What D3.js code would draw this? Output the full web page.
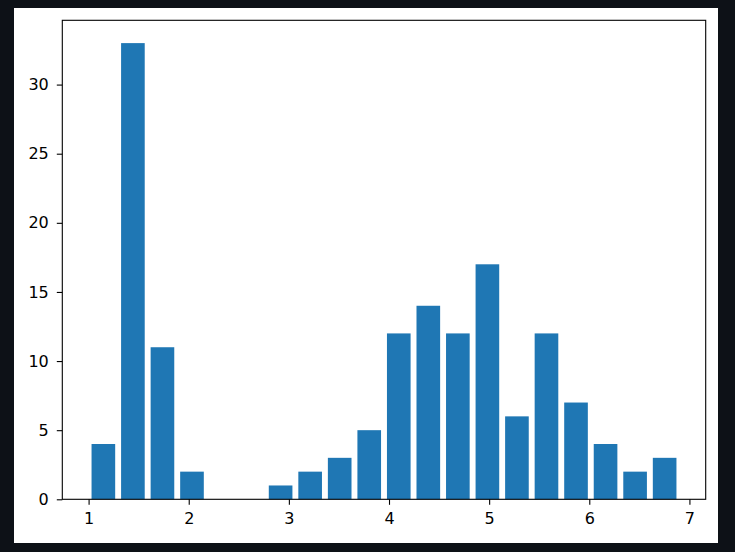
<!DOCTYPE html>
<html><head><meta charset="utf-8">
<script src="https://cdn.jsdelivr.net/npm/d3@7"></script>
<style>
html,body{margin:0;padding:0;background:#0d1117;}
svg{display:block;}
text{font-family:"DejaVu Sans",sans-serif;}
</style></head>
<body>
<script>
const binEdges = [1.0,1.295,1.59,1.885,2.18,2.475,2.77,3.065,3.36,3.655,3.95,4.245,4.54,4.835,5.13,5.425,5.72,6.015,6.31,6.605,6.9];
const counts = [4,33,11,2,0,0,1,2,3,5,12,14,12,17,6,12,7,4,2,3];
const xTicks = [1,2,3,4,5,6,7];
const yTicks = [0,5,10,15,20,25,30];

const W = 735, H = 552;
const svg = d3.select("body").append("svg").attr("width", W).attr("height", H);
svg.append("rect").attr("x",0).attr("y",0).attr("width",W).attr("height",H).attr("fill","#0d1117");
svg.append("rect").attr("x",14).attr("y",8).attr("width",704).attr("height",535).attr("fill","#ffffff");

const L = 62.3, R = 705.7, T = 20.3, B = 499.3;
const rw = 0.8;
const bw = binEdges[1]-binEdges[0];
const x0 = binEdges[0] + bw*(1-rw)/2, x1 = binEdges[binEdges.length-1] - bw*(1-rw)/2;
const pad = (x1-x0)*0.05;
const x = d3.scaleLinear().domain([x0-pad, x1+pad]).range([L, R]);
const y = d3.scaleLinear().domain([0, d3.max(counts)*1.05]).range([B, T]);

const bars = counts.map((c,i)=>({c, a: binEdges[i], b: binEdges[i+1]}));
svg.append("g").selectAll("rect").data(bars).join("rect")
  .attr("x", d => x(d.a + (d.b-d.a)*(1-rw)/2))
  .attr("width", d => x(d.a + (d.b-d.a)*(1+rw)/2) - x(d.a + (d.b-d.a)*(1-rw)/2))
  .attr("y", d => y(d.c))
  .attr("height", d => y(0)-y(d.c))
  .attr("fill", "#1f77b4");

const fs = "16px";
const xAxis = svg.append("g").attr("transform", `translate(0,${B})`)
  .call(d3.axisBottom(x).tickValues(xTicks).tickFormat(d3.format("d")).tickSize(5.5).tickSizeOuter(0).tickPadding(8));
xAxis.select(".domain").remove();
xAxis.selectAll("line").attr("stroke","#000").attr("stroke-width",1.1);
xAxis.selectAll("text").attr("font-size",fs).attr("fill","#000").attr("font-family","DejaVu Sans");

const yAxis = svg.append("g").attr("transform", `translate(${L},0)`)
  .call(d3.axisLeft(y).tickValues(yTicks).tickFormat(d3.format("d")).tickSize(5.5).tickSizeOuter(0).tickPadding(8));
yAxis.select(".domain").remove();
yAxis.selectAll("line").attr("stroke","#000").attr("stroke-width",1.1);
yAxis.selectAll("text").attr("font-size",fs).attr("fill","#000").attr("font-family","DejaVu Sans");

svg.append("rect").attr("x",L).attr("y",T).attr("width",R-L).attr("height",B-T)
  .attr("fill","none").attr("stroke","#000").attr("stroke-width",1.1);
</script>
</body></html>
